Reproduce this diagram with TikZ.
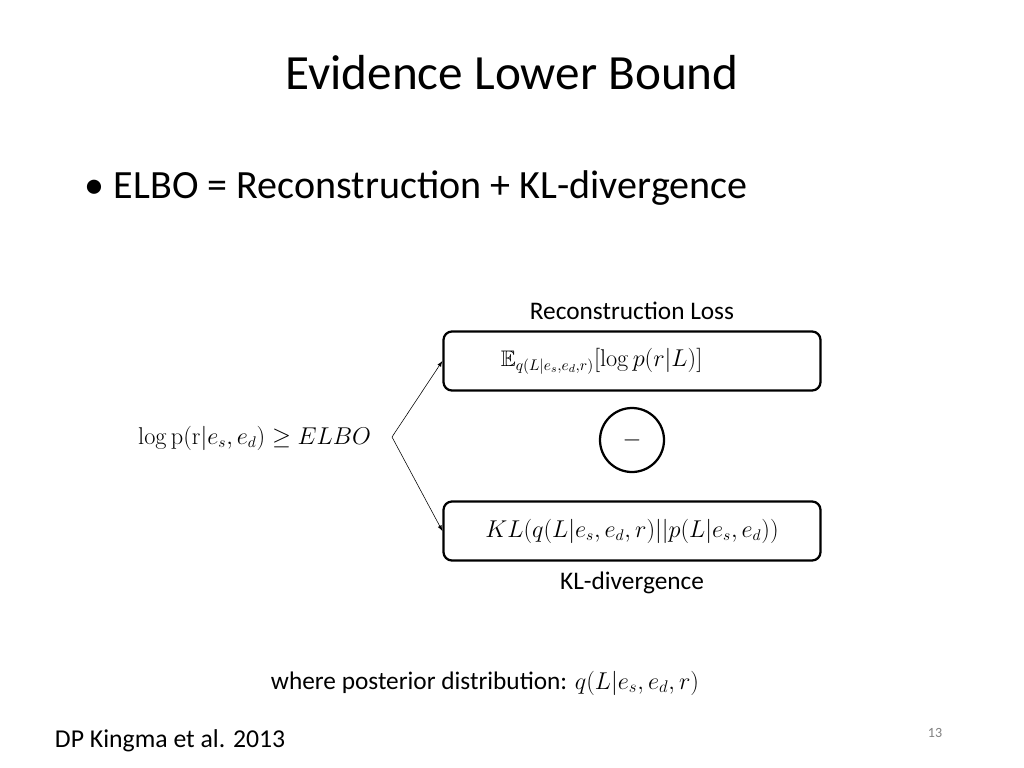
\documentclass[tikz,border=0pt]{standalone}
\usepackage{amssymb}
\usepackage[no-math]{fontspec}
\setmainfont{Carlito}
\begin{document}
\begin{tikzpicture}[x=0.025cm,y=-0.025cm,>=latex]
\useasboundingbox (0,0) rectangle (1024,768);
\tikzset{termbox/.style={draw,line width=1.6pt,rounded corners=6pt,minimum width=377*0.025cm,minimum height=59*0.025cm}}

\node (title) at (512,73) {\fontsize{35}{42}\selectfont Evidence Lower Bound};
\node[anchor=west] (bullet) at (80,188) {\fontsize{28.5}{34}\selectfont • ELBO = Reconstruction + KL-divergence};

\node[termbox] (recon) at (632,361) {};
\node[anchor=west] at (recon.west) [xshift=38] {\fontsize{16}{19}\selectfont $\mathbb{E}_{q(L|e_s,e_d,r)}[\log p(r|L)]$};
\node[termbox] (kldiv) at (632,531) {};
\node at (kldiv) {\fontsize{16}{19}\selectfont $KL(q(L|e_s,e_d,r)||p(L|e_s,e_d))$};
\node[draw,circle,line width=1.6pt,minimum size=64*0.025cm] (minus) at (632,440) {\fontsize{16}{19}\selectfont $-$};

\node (rlabel) at (632,311) {\fontsize{18}{21}\selectfont Reconstruction Loss};
\node (klabel) at (632,583) {\fontsize{18}{21}\selectfont KL-divergence};

\node[anchor=east] (elbo) at (376,438) {\fontsize{16}{19}\selectfont $\log \mathrm{p}(\mathrm{r}|e_s,e_d)\geq ELBO$};
\coordinate (split) at (392,437);
\draw[->] (split) -- (recon.west);
\draw[->] (split) -- (kldiv.west);

\node (post) at (485,683) {\fontsize{18}{21}\selectfont where posterior distribution: $q(L|e_s,e_d,r)$};
\node[anchor=west] (cite) at (50,741) {\fontsize{18.3}{22}\selectfont DP Kingma et al. 2013};
\node[text=gray] (page) at (935,733) {\fontsize{10}{12}\selectfont 13};
\end{tikzpicture}
\end{document}
